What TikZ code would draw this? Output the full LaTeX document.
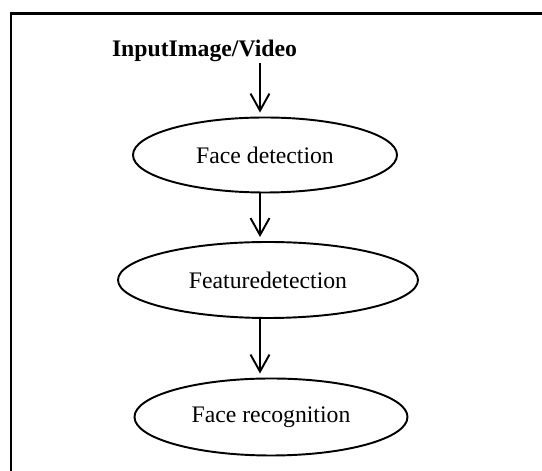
\documentclass[tikz,border=0pt]{standalone}
\usepackage{fontspec}
\setmainfont{Liberation Serif}
\usetikzlibrary{arrows.meta,shapes.geometric}
\begin{document}
\begin{tikzpicture}[
    stage/.style={draw,ellipse,line width=1.1pt,inner sep=0pt,font=\fontsize{13.5}{16}\selectfont},
    flow/.style={line width=1.1pt,-{Straight Barb[length=3.4mm,width=3.8mm,line width=1.1pt]},shorten >=0.08cm}
  ]
  \useasboundingbox (0,0) rectangle (10.84,-9.42);
  \draw[line width=1.7pt] (0.22,-9.42) -- (0.22,-0.27) -- (10.84,-0.27);
  \node[anchor=base,inner sep=0pt,font=\fontsize{13.5}{16}\selectfont\bfseries] (input) at (4.09,-1.14) {InputImage/Video};
  \node[stage,minimum width=5.28cm,minimum height=1.5cm] (face) at (5.30,-3.10) {Face detection};
  \node[stage,minimum width=6.0cm,minimum height=1.52cm] (feat) at (5.36,-5.60) {Featuredetection};
  \node[stage,minimum width=5.46cm,minimum height=1.54cm] (recog) at (5.42,-8.34) {Face recognition};
  \coordinate (axis) at (5.2,0);
  \draw[flow] (input.south -| axis) -- (face.north -| axis);
  \draw[flow] (face.south -| axis) -- (feat.north -| axis);
  \draw[flow] (feat.south -| axis) -- (recog.north -| axis);
\end{tikzpicture}
\end{document}
